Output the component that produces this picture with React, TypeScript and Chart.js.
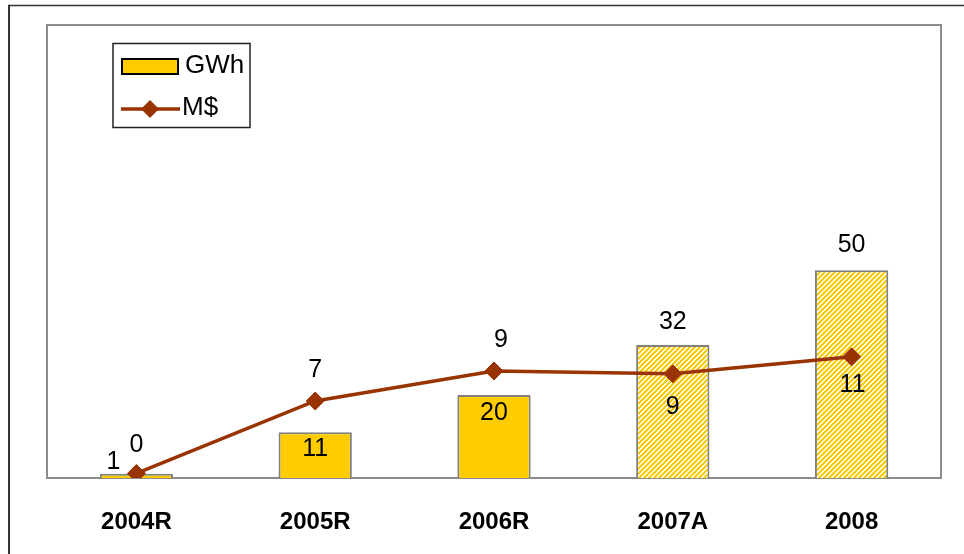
import React, { useEffect, useRef } from "react";
import { Chart, registerables } from "chart.js";

Chart.register(...registerables);

const categories = ["2004R", "2005R", "2006R", "2007A", "2008"];
const gwhValues = [1, 11, 20, 32, 50];
const mdValues = [0.4, 6.8, 9.45, 9.2, 10.7];
const hatchedBars = [false, false, false, true, true];
const seriesNames = ["GWh", "M$"];

// label offsets (dx, dy) relative to each mark
const gwhLabelOffsets = [[-23, -12], [0, 17], [0, 18], [0, -23], [0, -25]];
const mdLabelOffsets = [[0, -28], [0, -31], [7, -31], [0, 33], [1, 28]];

const FONT = '"Liberation Sans", Arial, sans-serif';
const YELLOW = "#FFCC00";
const LINE = "#993300";

function makeHatch(): CanvasPattern | string {
  const c = document.createElement("canvas");
  const n = 5;
  c.width = n;
  c.height = n;
  const ctx = c.getContext("2d");
  if (!ctx) return YELLOW;
  const img = ctx.createImageData(n, n);
  for (let y = 0; y < n; y++) {
    for (let x = 0; x < n; x++) {
      const i = (y * n + x) * 4;
      const yellow = (x + y) % n < 3;
      img.data[i] = 255;
      img.data[i + 1] = yellow ? 204 : 255;
      img.data[i + 2] = yellow ? 0 : 255;
      img.data[i + 3] = 255;
    }
  }
  ctx.putImageData(img, 0, 0);
  const p = ctx.createPattern(c, "repeat");
  return p || YELLOW;
}

const framePlugin = {
  id: "frame",
  beforeDraw(chart: any) {
    const ctx = chart.ctx;
    ctx.save();
    ctx.fillStyle = "#ffffff";
    ctx.fillRect(0, 0, chart.width, chart.height);
    ctx.strokeStyle = "#333333";
    ctx.lineWidth = 2;
    ctx.beginPath();
    ctx.moveTo(9, 5);
    ctx.lineTo(9, chart.height + 2);
    ctx.stroke();
    ctx.lineWidth = 1.5;
    ctx.beginPath();
    ctx.moveTo(8, 5.5);
    ctx.lineTo(chart.width + 2, 5.5);
    ctx.stroke();
    ctx.restore();
  },
  beforeDatasetsDraw(chart: any) {
    const ctx = chart.ctx;
    const a = chart.chartArea;
    ctx.save();
    ctx.strokeStyle = "#8c8c8c";
    ctx.lineWidth = 2;
    ctx.strokeRect(a.left, a.top, a.right - a.left, a.bottom - a.top);
    ctx.restore();
  },
};

const labelPlugin = {
  id: "valueLabels",
  afterDatasetsDraw(chart: any) {
    const ctx = chart.ctx;
    ctx.save();
    ctx.font = `25px ${FONT}`;
    ctx.fillStyle = "#000000";
    ctx.textAlign = "center";
    ctx.textBaseline = "middle";
    chart.data.datasets.forEach((ds: any, di: number) => {
      const meta = chart.getDatasetMeta(di);
      const offs = ds.type === "bar" ? gwhLabelOffsets : mdLabelOffsets;
      meta.data.forEach((el: any, i: number) => {
        const v = Math.round(ds.data[i]);
        const [dx, dy] = offs[i];
        ctx.fillText(String(v), el.x + dx, el.y + dy);
      });
    });
    ctx.restore();
  },
  afterDraw(chart: any) {
    const ctx = chart.ctx;
    ctx.save();
    // legend box
    ctx.strokeStyle = "#222222";
    ctx.lineWidth = 1.5;
    ctx.strokeRect(113, 43.5, 137, 84);
    const barDs = chart.data.datasets.find((d: any) => d.type === "bar");
    const lineDs = chart.data.datasets.find((d: any) => d.type === "line");
    // bar swatch
    ctx.fillStyle = YELLOW;
    ctx.fillRect(122, 59, 56, 15);
    ctx.strokeStyle = "#000000";
    ctx.lineWidth = 2;
    ctx.strokeRect(122, 59, 56, 15);
    // line swatch
    ctx.strokeStyle = lineDs.borderColor;
    ctx.lineWidth = 3.5;
    ctx.beginPath();
    ctx.moveTo(121, 109);
    ctx.lineTo(180, 109);
    ctx.stroke();
    ctx.fillStyle = lineDs.borderColor;
    ctx.beginPath();
    ctx.moveTo(150, 100);
    ctx.lineTo(159, 109);
    ctx.lineTo(150, 118);
    ctx.lineTo(141, 109);
    ctx.closePath();
    ctx.fill();
    ctx.fillStyle = "#000000";
    ctx.font = `26px ${FONT}`;
    ctx.textAlign = "left";
    ctx.textBaseline = "middle";
    ctx.fillText(barDs.label, 185, 66);
    ctx.fillText(lineDs.label, 182, 108);
    ctx.restore();
  },
};

export default function App() {
  const ref = useRef<HTMLCanvasElement | null>(null);
  useEffect(() => {
    if (!ref.current) return;
    const hatch = makeHatch();
    const barColors = hatchedBars.map((h) => (h ? hatch : YELLOW));
    const chart = new Chart(ref.current, {
      data: {
        labels: categories,
        datasets: [
          {
            type: "line",
            label: seriesNames[1],
            data: mdValues,
            yAxisID: "y1",
            order: 0,
            borderColor: LINE,
            backgroundColor: LINE,
            borderWidth: 3.5,
            pointStyle: "rectRot",
            pointRadius: 9,
            pointBackgroundColor: LINE,
            pointBorderColor: LINE,
            pointBorderWidth: 1,
            tension: 0,
          } as any,
          {
            type: "bar",
            label: seriesNames[0],
            data: gwhValues,
            yAxisID: "y",
            order: 1,
            backgroundColor: barColors as any,
            borderColor: "#808080",
            borderWidth: 2,
            barPercentage: 0.41,
            categoryPercentage: 1,
          } as any,
        ],
      },
      options: {
        responsive: false,
        animation: false,
        layout: { padding: { left: 47, top: 25, right: 23, bottom: 0 } },
        plugins: {
          legend: { display: false },
          tooltip: { enabled: false },
        },
        scales: {
          x: {
            type: "category",
            offset: true,
            grid: { display: false },
            border: { display: false },
            ticks: {
              color: "#000000",
              padding: 22,
              font: { family: FONT, size: 24, weight: "bold" },
              maxRotation: 0,
            },
            afterFit(scale: any) {
              scale.height = 76;
            },
          },
          y: {
            display: false,
            min: 0,
            max: 109,
          },
          y1: {
            display: false,
            min: 0,
            max: 40,
          },
        },
      } as any,
      plugins: [framePlugin, labelPlugin],
    });
    return () => chart.destroy();
  }, []);
  return (
    <div style={{ position: "fixed", left: 0, top: 0, width: 964, height: 554 }}>
      <canvas ref={ref} width={964} height={554} style={{ display: "block" }} />
    </div>
  );
}
